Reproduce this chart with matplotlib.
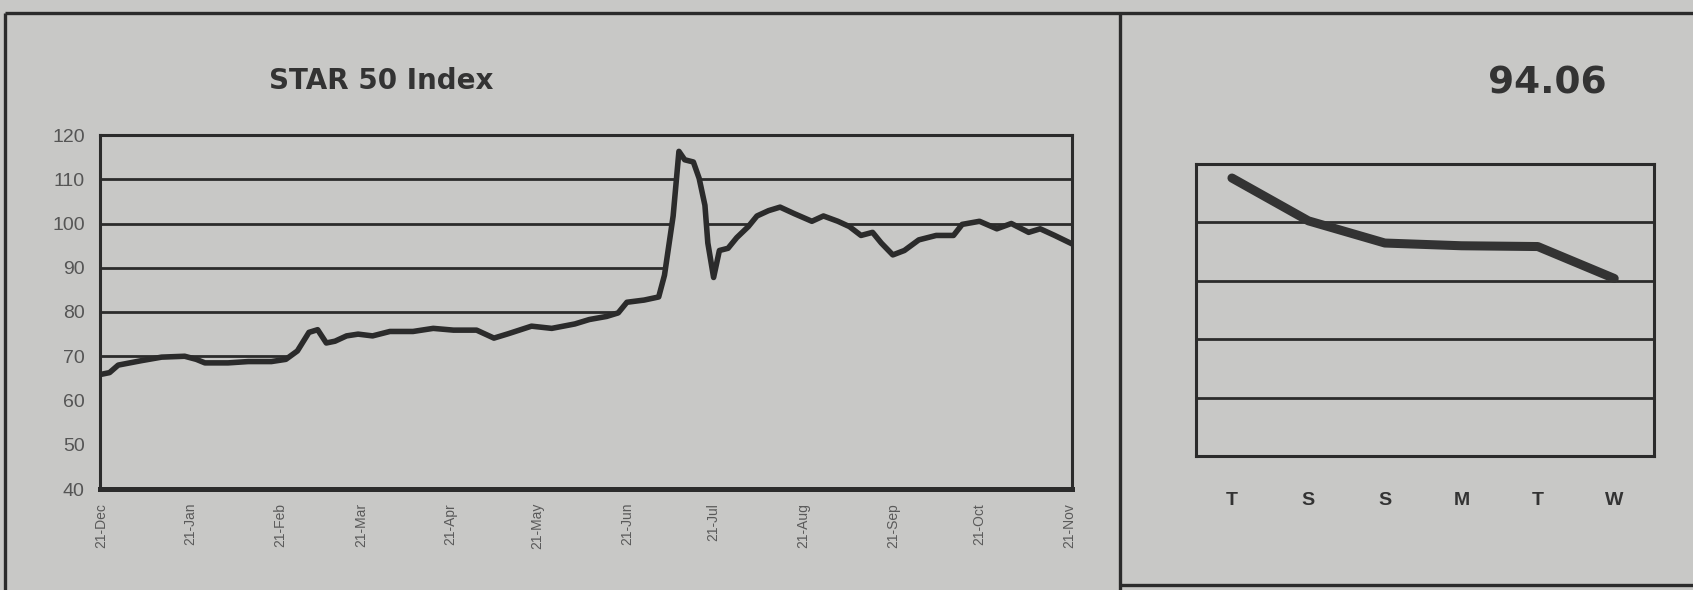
import numpy as np
import pandas as pd
import matplotlib
matplotlib.use("Agg")
import matplotlib.pyplot as plt
from matplotlib.lines import Line2D

# STAR 50 Index, daily closes (days counted from the first point)
start_date = "2020-12-21"
days = [0, 3, 6, 14, 21, 29, 33, 36, 44, 51,
        59, 64, 68, 72, 75, 78, 81, 85, 89, 94,
        100, 108, 115, 122, 130, 136, 141, 149, 156, 164,
        169, 175, 179, 182, 188, 193, 195, 198, 200, 202,
        205, 207, 209, 210, 212, 214, 217, 220, 224, 227,
        231, 235, 240, 246, 250, 255, 259, 263, 267, 270,
        274, 278, 283, 289, 295, 298, 304, 310, 315, 321,
        325, 330, 336]
index_values = [65.9, 66.3, 68.0, 69.0, 69.8, 70.0, 69.3, 68.5, 68.5, 68.8,
                68.8, 69.3, 71.2, 75.4, 76.0, 73.0, 73.4, 74.6, 75.0, 74.6,
                75.6, 75.6, 76.3, 75.9, 75.9, 74.1, 75.1, 76.8, 76.3, 77.3,
                78.3, 79.0, 79.8, 82.2, 82.7, 83.4, 88.3, 101.7, 116.3, 114.4,
                113.9, 110.2, 104.1, 95.6, 87.8, 93.9, 94.4, 96.8, 99.3, 101.7,
                102.9, 103.7, 102.2, 100.5, 101.7, 100.5, 99.3, 97.3, 98.0, 95.6,
                92.9, 93.9, 96.3, 97.3, 97.3, 99.8, 100.5, 98.8, 100.0, 98.0,
                98.8, 97.3, 95.4]
month_labels = ["21-Dec", "21-Jan", "21-Feb", "21-Mar", "21-Apr", "21-May",
                "21-Jun", "21-Jul", "21-Aug", "21-Sep", "21-Oct", "21-Nov"]
y_ticks = [40, 50, 60, 70, 80, 90, 100, 110, 120]

# last week
week_days = ["T", "S", "S", "M", "T", "W"]
week_values = [96.64, 95.54, 94.97, 94.9, 94.88, 94.06]
last_value = "94.06"

BG = "#c8c8c6"
INK = "#2b2b2b"
W, H = 1693, 590

plt.rcParams["font.family"] = ["Liberation Sans", "DejaVu Sans"]

fig = plt.figure(figsize=(W / 100, H / 100), dpi=100, facecolor=BG)


def fx(px):
    return px / W


def fy(py):
    return 1 - py / H


# outer frame
frame = [((5, 1693), (13, 13)), ((5, 5), (13, 590)),
         ((1120, 1120), (13, 590)), ((1120, 1693), (585, 585))]
for xs, ys in frame:
    fig.add_artist(Line2D([fx(x) for x in xs], [fy(y) for y in ys],
                          color=INK, lw=2.4, solid_capstyle="butt"))

# ---- left panel: STAR 50 Index ----
ax = fig.add_axes([fx(100), fy(489), fx(1072 - 100), fy(135) - fy(489)])
ax.set_facecolor(BG)
start = pd.Timestamp(start_date)
dates = start + pd.to_timedelta(days, unit="D")
ax.fill_between(dates, index_values, 40, color=BG, zorder=2, lw=0)
ax.plot(dates, index_values, color=INK, lw=4.0, zorder=3,
        solid_joinstyle="round")
for v in y_ticks[1:-1]:
    ax.axhline(v, color=INK, lw=2.0, zorder=1)
tick_dates = pd.date_range(start_date, periods=len(month_labels),
                           freq=pd.DateOffset(months=1))
ax.set_xticks(tick_dates)
ax.set_xticklabels(month_labels, rotation=90, fontsize=10, color="#5a5a5a")
ax.set_xlim(dates[0] - pd.Timedelta(days=0.3), dates[-1])
ax.set_ylim(40, 120)
ax.set_yticks(y_ticks)
ax.set_yticklabels([str(v) for v in y_ticks], fontsize=14, color="#555555")
ax.tick_params(axis="both", length=0)
ax.tick_params(axis="y", pad=11)
ax.tick_params(axis="x", pad=10)
for side in ["top", "right", "left"]:
    ax.spines[side].set_linewidth(2.2)
    ax.spines[side].set_color(INK)
ax.spines["bottom"].set_linewidth(3.6)
ax.spines["bottom"].set_color(INK)
fig.text(fx(381), fy(81), "STAR 50 Index", ha="center", va="center",
         fontsize=20, fontweight="bold", color="#333333",
         family="DejaVu Sans")

# ---- right panel: week ----
ax2 = fig.add_axes([fx(1196), fy(456), fx(1654 - 1196), fy(164) - fy(456)])
ax2.set_facecolor(BG)
ax2.plot(range(len(week_values)), week_values, color="#333333", lw=6.5,
         solid_capstyle="round", solid_joinstyle="round", zorder=3)
ax2.set_ylim(89.5, 97)
ax2.set_xlim(-0.47, 5.52)
for v in [91, 92.5, 94, 95.5]:
    ax2.axhline(v, color=INK, lw=2.0, zorder=1)
ax2.set_yticks([])
ax2.set_xticks(range(len(week_days)))
ax2.set_xticklabels(week_days, fontsize=14, fontweight="bold", color="#333333")
ax2.tick_params(axis="x", length=0, pad=26)
for side in ax2.spines.values():
    side.set_linewidth(2.2)
    side.set_color(INK)
fig.text(fx(1547), fy(83), last_value, ha="center", va="center",
         fontsize=27, fontweight="bold", color="#333333",
         family="DejaVu Sans")

fig.savefig("out.png", dpi=100, facecolor=BG)
